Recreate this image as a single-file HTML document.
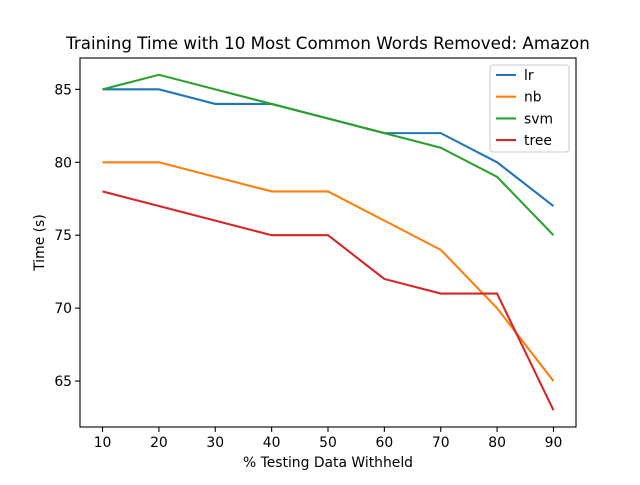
<!DOCTYPE html>
<html><head><meta charset="utf-8"><style>
body{margin:0;background:#fff}
svg text{font-family:"DejaVu Sans","Liberation Sans",sans-serif;fill:#000}
</style></head><body>
<svg id="chart" width="640" height="480" viewBox="0 0 640 480">
<rect width="640" height="480" fill="#fff"/>
<text x="328" y="49" font-size="16.7" text-anchor="middle">Training Time with 10 Most Common Words Removed: Amazon</text>
<g id="plot"></g>
<rect x="80" y="58" width="496" height="369" fill="none" stroke="#000" stroke-width="1.1"/>
<text x="328" y="467" font-size="13.9" text-anchor="middle">% Testing Data Withheld</text>
<text transform="translate(44,242.5) rotate(-90)" font-size="13.9" text-anchor="middle">Time (s)</text>
</svg>
<script>
const categories=[10,20,30,40,50,60,70,80,90];
const lr=[85,85,84,84,83,82,82,80,77];
const nb=[80,80,79,78,78,76,74,70,65];
const svm=[85,86,85,84,83,82,81,79,75];
const tree=[78,77,76,75,75,72,71,71,63];
const yTicks=[65,70,75,80,85];
const seriesNames=["lr","nb","svm","tree"];
const colors=["#1f77b4","#ff7f0e","#2ca02c","#d62728"];
const NS="http://www.w3.org/2000/svg";
const X0=80,X1=576,Y0=58,Y1=427;
const xmin=6,xmax=94,ymin=61.85,ymax=87.15;
function xs(v){return X0+(v-xmin)/(xmax-xmin)*(X1-X0);}
function ys(v){return Y1-(v-ymin)/(ymax-ymin)*(Y1-Y0);}
const svg=document.getElementById('chart');
const g=document.getElementById('plot');
function mk(t,a,p){const e=document.createElementNS(NS,t);for(const k in a)e.setAttribute(k,a[k]);(p||g).appendChild(e);return e;}
categories.forEach(c=>{
  const x=xs(c);
  const t=mk('line',{x1:x,x2:x,y1:Y1,y2:Y1+4.9,stroke:'#000','stroke-width':1.1});
  
  
  const l=mk('text',{x:x,y:Y1+20,'font-size':13.9,'text-anchor':'middle'});
  l.textContent=c;
  
  
});
yTicks.forEach(v=>{
  const y=ys(v);
  const t=mk('line',{x1:X0-4.9,x2:X0,y1:y,y2:y,stroke:'#000','stroke-width':1.1});
  
  
  const l=mk('text',{x:X0-8,y:y+5,'font-size':13.9,'text-anchor':'end'});
  l.textContent=v;
  
  
});
[lr,nb,svm,tree].forEach((s,i)=>{
  const p=mk('polyline',{points:s.map((v,j)=>xs(categories[j])+','+ys(v)).join(' '),fill:'none',stroke:colors[i],'stroke-width':2.1});
  
  
});
const lg=mk('g',{},svg);


mk('rect',{x:490,y:65,width:79,height:87,rx:3,fill:'#fff',stroke:'#ccc','stroke-width':1.1},lg);
seriesNames.forEach((n,i)=>{
  const y=75+i*21.7;
  const e=mk('g',{},lg);
  
  
  mk('line',{x1:496,x2:516,y1:y,y2:y,stroke:colors[i],'stroke-width':2.1},e);
  const t=mk('text',{x:524,y:y+5,'font-size':13.9},e);
  t.textContent=n;
});
</script>
</body></html>
